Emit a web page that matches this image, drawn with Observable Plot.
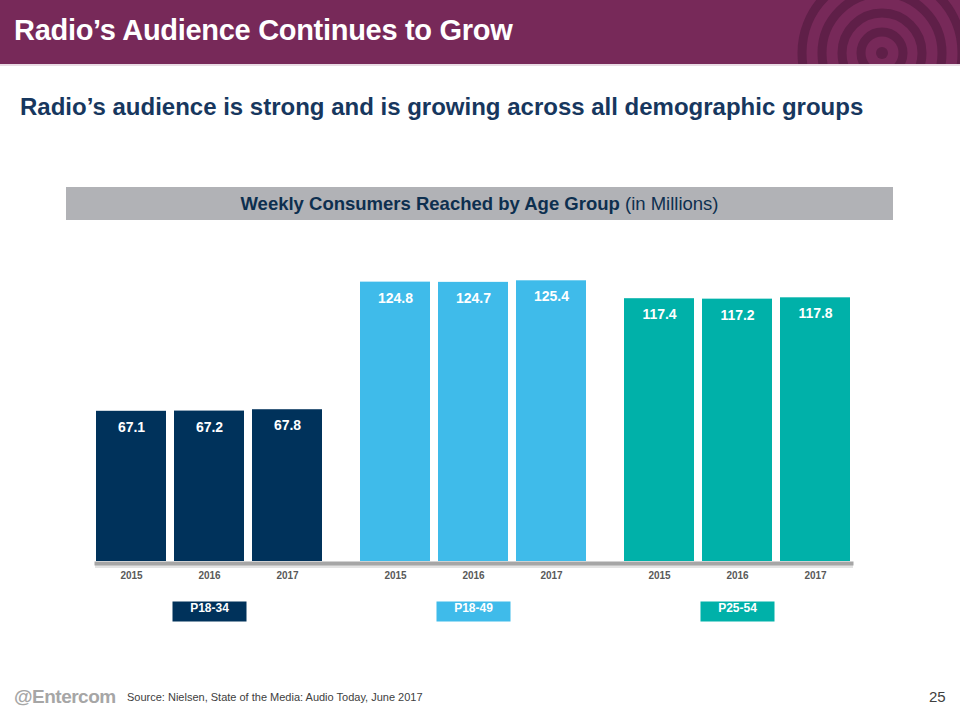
<!DOCTYPE html>
<html>
<head>
<meta charset="utf-8">
<script src="https://cdn.jsdelivr.net/npm/d3@7"></script>
<script src="https://cdn.jsdelivr.net/npm/@observablehq/plot@0.6"></script>
<style>
  body { margin:0; background:#fff; font-family:"Liberation Sans", Arial, sans-serif; }
  #page { position:relative; width:960px; height:720px; overflow:hidden; }
  #header { position:absolute; left:0; top:0; width:960px; height:64px; background:#772959; border-bottom:2px solid #e9dce4; }
  #title { position:absolute; left:14px; top:14px; color:#fff; font-weight:bold; font-size:29px; letter-spacing:-0.3px; }
  #deco { position:absolute; left:0; top:0; }
  #subtitle { position:absolute; left:20px; top:93px; color:#17375e; font-weight:bold; font-size:24px; }
  #banner { position:absolute; left:66px; top:187px; width:827px; height:33px; background:#b1b2b6; color:#0d2f4f; font-size:18.5px; text-align:center; line-height:33px; }
  #chart { position:absolute; left:0; top:230px; }
  #logo { position:absolute; left:14px; top:686px; color:#a6a6a6; font-size:19px; font-weight:bold; letter-spacing:-0.5px; }
  #source { position:absolute; left:127px; top:691px; color:#404040; font-size:11px; }
  #pnum { position:absolute; left:929px; top:688px; color:#404040; font-size:15px; }
</style>
</head>
<body>
<div id="page">
  <div id="header">
    <svg id="deco" width="960" height="64">
      <g fill="none" stroke="#5f1f48" stroke-width="9">
        <circle cx="882" cy="53" r="80"/>
        <circle cx="882" cy="53" r="60"/>
        <circle cx="882" cy="53" r="40"/>
        <circle cx="882" cy="53" r="21"/>
      </g>
      <circle cx="882" cy="53" r="6" fill="#5f1f48"/>
    </svg>
    <div id="title">Radio’s Audience Continues to Grow</div>
  </div>
  <div id="subtitle">Radio’s audience is strong and is growing across all demographic groups</div>
  <div id="banner"><b>Weekly Consumers Reached by Age Group</b> (in Millions)</div>
  <div id="chart"></div>
  <div id="logo">@Entercom</div>
  <div id="source">Source: Nielsen, State of the Media: Audio Today, June 2017</div>
  <div id="pnum">25</div>
</div>
<script>
const groups = ["P18-34", "P18-49", "P25-54"];
const years = ["2015", "2016", "2017"];
const p1834 = [67.1, 67.2, 67.8];
const p1849 = [124.8, 124.7, 125.4];
const p2554 = [117.4, 117.2, 117.8];
const groupColors = ["#00325b", "#3fbbea", "#00b1a9"];

const series = [p1834, p1849, p2554];
const data = groups.flatMap((g, i) => years.map((y, j) => ({group: g, year: y, value: series[i][j]})));
const labelData = groups.map(g => ({group: g, year: years[1]}));

const boxSymbol = {
  draw(context) {
    context.moveTo(-37, -10);
    context.lineTo(37, -10);
    context.lineTo(37, 10);
    context.lineTo(-37, 10);
    context.closePath();
  }
};

const chart = Plot.plot({
  width: 960,
  height: 400,
  marginLeft: 82,
  marginRight: 94,
  marginTop: 40,
  marginBottom: 69,
  style: {fontFamily: "Liberation Sans, Arial, sans-serif", background: "transparent"},
  fx: {domain: groups, paddingInner: 0.14, paddingOuter: 0.05, axis: null, label: null},
  x: {domain: years, paddingInner: 0.1, paddingOuter: 0, label: null, axis: null},
  y: {domain: [0, 130], axis: null},
  color: {domain: groups, range: groupColors},
  marks: [
    Plot.frame({anchor: "bottom", stroke: "#e3e3e3", strokeWidth: 3, dy: 5, facet: "super"}),
    Plot.frame({anchor: "bottom", stroke: "#a6a6a6", strokeWidth: 4, dy: 2, facet: "super"}),
    Plot.barY(data, {fx: "group", x: "year", y: "value", fill: "group"}),
    Plot.text(data, {fx: "group", x: "year", y: "value", text: d => d.value.toFixed(1), dy: 16, fill: "white", fontWeight: "bold", fontSize: 14}),
    Plot.axisX({tickSize: 0, tickPadding: 10, fontSize: 10, fontWeight: "bold", fill: "#595959", label: null}),
    Plot.dot(labelData, {fx: "group", x: "year", frameAnchor: "bottom", dy: 50, symbol: boxSymbol, fill: "group", stroke: "none"}),
    Plot.text(labelData, {fx: "group", x: "year", frameAnchor: "bottom", dy: 50, text: "group", fill: "white", fontWeight: "bold", fontSize: 12})
  ]
});
document.getElementById("chart").appendChild(chart);
</script>
</body>
</html>
